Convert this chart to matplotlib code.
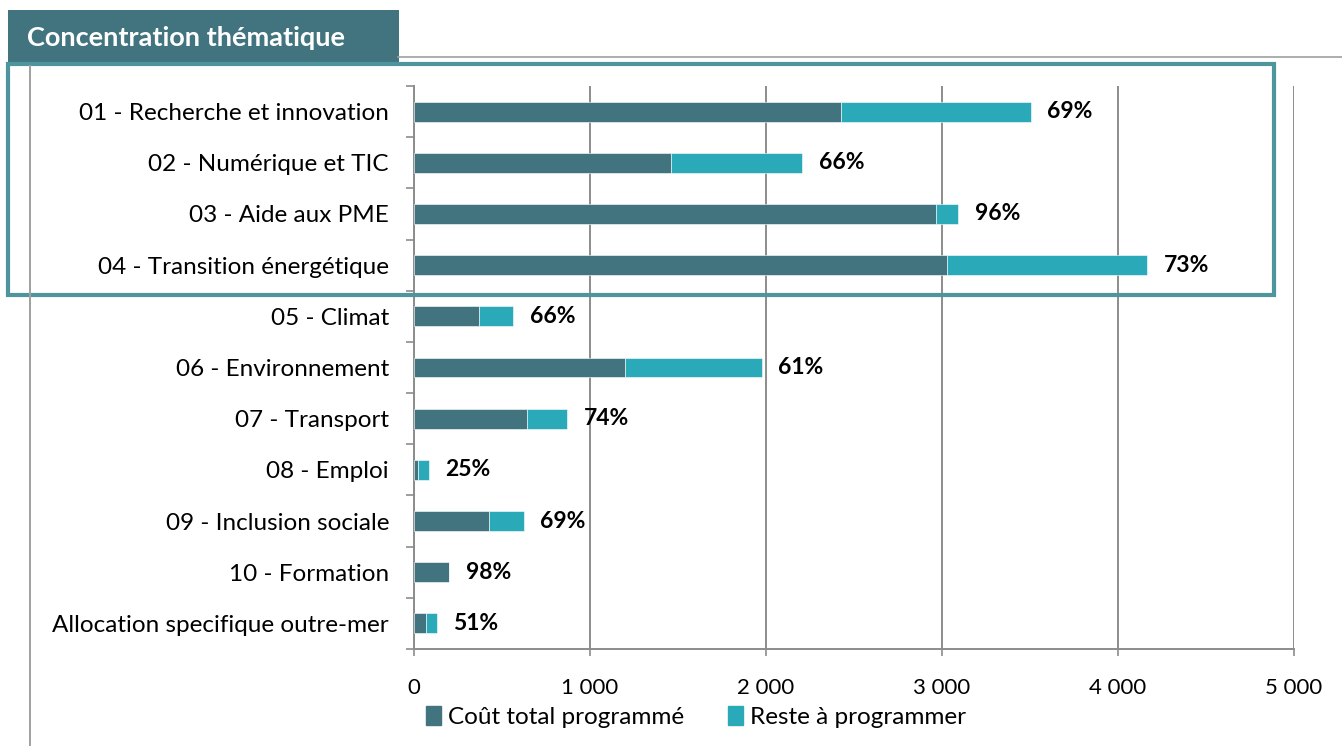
import matplotlib
matplotlib.use("Agg")
import matplotlib.pyplot as plt
from matplotlib.patches import Rectangle
from matplotlib.lines import Line2D

categories = ["01 - Recherche et innovation", "02 - Numérique et TIC", "03 - Aide aux PME",
              "04 - Transition énergétique", "05 - Climat", "06 - Environnement",
              "07 - Transport", "08 - Emploi", "09 - Inclusion sociale", "10 - Formation",
              "Allocation specifique outre-mer"]
cout_total = [2424, 1462, 2968, 3030, 371, 1201, 640, 21, 428, 197, 66]
reste = [1080, 743, 123, 1137, 192, 774, 229, 62, 195, 4, 63]
pct_labels = ["69%", "66%", "96%", "73%", "66%", "61%", "74%", "25%", "69%", "98%", "51%"]
xticks = [0, 1000, 2000, 3000, 4000, 5000]
xtick_labels = ["0", "1 000", "2 000", "3 000", "4 000", "5 000"]
series_names = ["Coût total programmé", "Reste à programmer"]
title = "Concentration thématique"

DARK = "#41747F"
LIGHT = "#2AAAB9"
GRID = "#8C8C8C"
BOX = "#4F959D"

plt.rcParams['font.family'] = ['Lato', 'DejaVu Sans']

W, H = 1342, 751
fig = plt.figure(figsize=(W / 100, H / 100), dpi=100)

def fx(px):
    return px / W

def fy(py):
    return 1 - py / H

ax = fig.add_axes([fx(414), fy(649), fx(1294) - fx(414), fy(86) - fy(649)])
ypos = list(range(len(categories)))
ax.barh(ypos, cout_total, height=0.39, color=DARK, edgecolor="white", linewidth=0.4, zorder=3)
ax.barh(ypos, reste, left=cout_total, height=0.39, color=LIGHT, edgecolor="white", linewidth=0.4, zorder=3)

for i, (c, r, lab) in enumerate(zip(cout_total, reste, pct_labels)):
    ax.annotate(lab, xy=(c + r, i), xytext=(12, 0), textcoords="offset points",
                ha="left", va="center", fontsize=16.5, fontweight="bold", color="black")

ax.set_xlim(0, 5000)
ax.set_ylim(len(categories) - 0.5, -0.5)
ax.set_xticks(xticks)
ax.set_xticklabels(xtick_labels, fontsize=16)
ax.set_yticks([i - 0.5 for i in range(len(categories) + 1)])
ax.set_yticklabels([])
ax.set_yticks(ypos, minor=True)
ax.set_yticklabels(categories, minor=True, fontsize=17.5)
ax.tick_params(axis="y", which="major", length=6, width=1.2, color=GRID, direction="out")
ax.tick_params(axis="y", which="minor", length=0, pad=18)
ax.tick_params(axis="x", which="major", length=5, width=1.2, color=GRID, direction="out", pad=16)
ax.grid(axis="x", color=GRID, linewidth=1.4, zorder=0)
for s in ["top", "right"]:
    ax.spines[s].set_visible(False)
for s in ["left", "bottom"]:
    ax.spines[s].set_color(GRID)
    ax.spines[s].set_linewidth(1.4)

# legend
handles = [Rectangle((0, 0), 1, 1, color=DARK), Rectangle((0, 0), 1, 1, color=LIGHT)]
fig.legend(handles, series_names, loc="center", bbox_to_anchor=(fx(696), fy(717)), ncol=2,
           frameon=False, fontsize=17.5, handlelength=0.6, handleheight=0.8, handletextpad=0.3,
           columnspacing=1.8)

# decorations
fig.add_artist(Line2D([fx(398), fx(1342)], [fy(57), fy(57)], color="#A0A0A0", linewidth=1.2))
fig.add_artist(Line2D([fx(30), fx(30)], [fy(66), fy(745)], color="#A0A0A0", linewidth=1.4))
fig.add_artist(Rectangle((fx(8), fy(64)), fx(391), fy(10) - fy(64), transform=fig.transFigure,
                         facecolor=DARK, edgecolor="none"))
fig.text(fx(27), fy(38), title, color="white", fontsize=19.5, fontweight="bold", va="center", ha="left")
fig.add_artist(Rectangle((fx(8), fy(295)), fx(1274) - fx(8), fy(64) - fy(295), transform=fig.transFigure,
                         facecolor="none", edgecolor=BOX, linewidth=3))

fig.savefig("out.png", dpi=100)
